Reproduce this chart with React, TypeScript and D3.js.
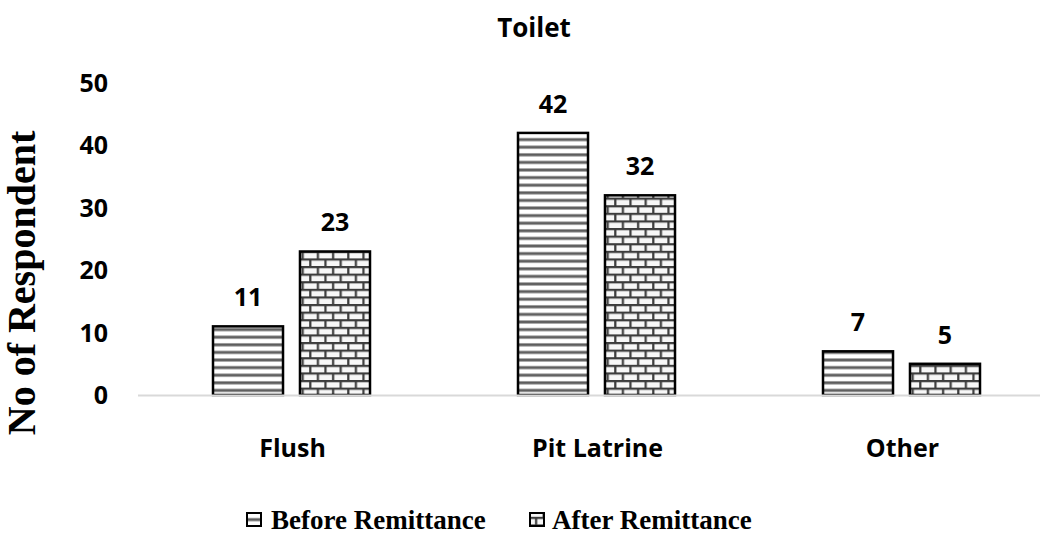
import React from 'react';
import * as d3 from 'd3';

const categories = ['Flush', 'Pit Latrine', 'Other'];
const seriesNames = ['Before Remittance', 'After Remittance'];
const beforeValues = [11, 42, 7];
const afterValues = [23, 32, 5];
const yTicks = [0, 10, 20, 30, 40, 50];

const W = 1040;
const H = 534;
const sansFont = '"Open Sans", Lato, sans-serif';
const serifFont = '"Liberation Serif", "DejaVu Serif", serif';

const App: React.FC = () => {
    const x0 = d3.scaleBand<string>().domain(categories).range([139, 1054]).padding(0);
    const x1 = d3.scaleBand<string>().domain(seriesNames).range([74, 231]).paddingInner(0.195);
    const y = d3.scaleLinear().domain([0, 50]).range([395, 83]);

    const series = [beforeValues, afterValues];
    const fills = ['url(#stripes)', 'url(#bricks)'];
    // legend: icon x, text x
    const legendPos = [[247, 271], [530, 552]];

    return (
        <svg width={W} height={H} style={{ position: 'absolute', left: 0, top: 0, background: '#fff' }}>
            <defs>
                <pattern id="stripes" patternUnits="userSpaceOnUse" width={8} height={7.6}>
                    <rect width={8} height={7.6} fill="#fff" />
                    <rect y={1} width={8} height={3.6} fill="#9a9a9a" />
                    <rect y={2} width={8} height={1.6} fill="#555" />
                </pattern>
                <pattern id="bricks" patternUnits="userSpaceOnUse" width={15.2} height={15.2}>
                    <rect width={15.2} height={15.2} fill="#f7f7f7" />
                    <rect y={0} width={15.2} height={2.2} fill="#3c3c3c" />
                    <rect y={7.6} width={15.2} height={2.2} fill="#3c3c3c" />
                    <rect x={3} y={0} width={2.2} height={7.6} fill="#3c3c3c" />
                    <rect x={10.6} y={7.6} width={2.2} height={7.6} fill="#3c3c3c" />
                </pattern>
            </defs>

            {/* title */}
            <text x={534} y={37} textAnchor="middle" fontFamily={sansFont} fontWeight="bold" fontSize={26} fill="#000">
                Toilet
            </text>

            {/* y ticks */}
            {yTicks.map(t => (
                <text key={t} x={108} y={y(t)} dy="0.36em" textAnchor="end" fontFamily={sansFont}
                    fontWeight="bold" fontSize={25} fill="#000">
                    {t}
                </text>
            ))}

            {/* y title */}
            <text transform="translate(35,283) rotate(-90)" textAnchor="middle" fontFamily={serifFont}
                fontWeight="bold" fontSize={40} fill="#000">
                No of Respondent
            </text>

            {/* bars */}
            {categories.map((c, ci) => (
                <g key={c} transform={`translate(${x0(c)},0)`}>
                    {seriesNames.map((s, si) => {
                        const v = series[si][ci];
                        const bx = x1(s)!;
                        return (
                            <g key={s}>
                                <rect x={bx} y={y(v)} width={x1.bandwidth()} height={y(0) - y(v)}
                                    fill={fills[si]} stroke="#000" strokeWidth={2.5} />
                                <text x={bx + x1.bandwidth() / 2} y={y(v) - 20} textAnchor="middle"
                                    fontFamily={sansFont} fontWeight="bold" fontSize={25} fill="#000">
                                    {v}
                                </text>
                            </g>
                        );
                    })}
                    <text x={x0.bandwidth() / 2 + 1} y={457} textAnchor="middle" fontFamily={sansFont}
                        fontWeight="bold" fontSize={25} fill="#000">
                        {c}
                    </text>
                </g>
            ))}

            {/* x axis line */}
            <line x1={138} x2={W} y1={395.5} y2={395.5} stroke="#d9d9d9" strokeWidth={2} />

            {/* legend */}
            {seriesNames.map((s, si) => (
                <g key={s}>
                    <rect x={legendPos[si][0]} y={513} width={14} height={13} fill={fills[si]} stroke="#000" strokeWidth={2} />
                    <text x={legendPos[si][1]} y={529} fontFamily={serifFont} fontWeight="bold" fontSize={27} fill="#000">
                        {s}
                    </text>
                </g>
            ))}
        </svg>
    );
};

export default App;
